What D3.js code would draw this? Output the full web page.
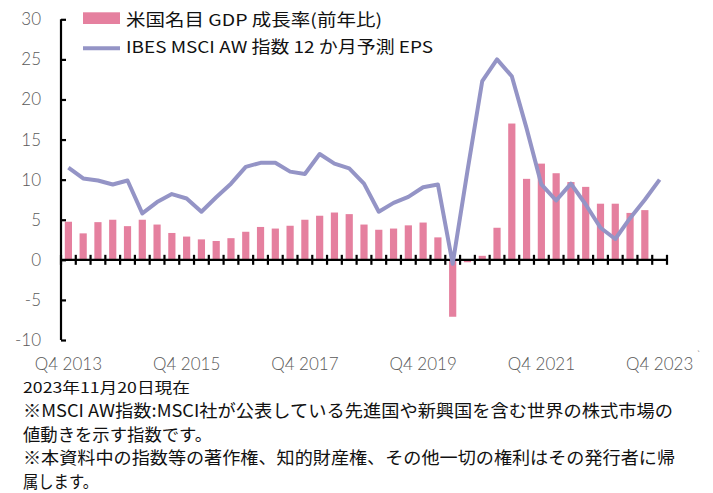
<!DOCTYPE html>
<html>
<head>
<meta charset="utf-8">
<script src="https://cdn.jsdelivr.net/npm/d3@7"></script>
<style>
  body { margin: 0; background: #fff; }
  svg { display: block; }
</style>
</head>
<body>
<script>
// quarters Q4 2013 .. Q4 2023
var quarters = [];
for (var y = 2013; y <= 2023; y++) {
  for (var q = 1; q <= 4; q++) {
    if ((y === 2013 && q < 4)) continue;
    quarters.push('Q' + q + ' ' + y);
  }
}

// 米国名目GDP成長率(前年比) - last quarter has no value yet
var gdp = [4.75, 3.3, 4.7, 5.0, 4.2, 5.0, 4.4, 3.35, 2.9, 2.55,
           2.35, 2.7, 3.5, 4.1, 3.9, 4.25, 5.0, 5.5, 5.9, 5.7,
           4.4, 3.75, 3.9, 4.3, 4.65, 2.8, -7.1, -0.3, 0.5, 4.0,
           17.0, 10.1, 12.0, 10.8, 9.7, 9.1, 7.0, 7.0, 5.85, 6.2, null];

// IBES MSCI AW 指数 12か月予測EPS
var eps = [11.5, 10.15, 9.9, 9.4, 9.9, 5.8, 7.2, 8.2, 7.65, 6.0,
           7.8, 9.5, 11.6, 12.1, 12.1, 11.0, 10.7, 13.2, 12.0, 11.4,
           9.5, 6.0, 7.1, 7.85, 9.05, 9.4, -0.5, 11.1, 22.3, 25.0,
           22.9, 16.4, 9.4, 7.4, 9.5, 6.9, 4.0, 2.6, 5.2, 7.5, 10.0];

var yTicks = [-10, -5, 0, 5, 10, 15, 20, 25, 30];
var xLabelQuarters = ['Q4 2013', 'Q4 2015', 'Q4 2017', 'Q4 2019', 'Q4 2021', 'Q4 2023'];

var legendLabels = ['米国名目 GDP 成長率(前年比)', 'IBES MSCI AW 指数 12 か月予測 EPS'];
var notes = [
  '2023年11月20日現在',
  '※MSCI AW指数:MSCI社が公表している先進国や新興国を含む世界の株式市場の',
  '値動きを示す指数です。',
  '※本資料中の指数等の著作権、知的財産権、その他一切の権利はその発行者に帰',
  '属します。'
];

var W = 713, H = 493;
var barColor = '#e5809f', lineColor = '#9494c6';
var numFont = 'Lato, "Noto Sans", sans-serif';
var jpFont = '"Noto Sans CJK JP", "Noto Sans", sans-serif';

var svg = d3.select('body').append('svg')
  .attr('width', W).attr('height', H);

var xb = d3.scaleBand().domain(quarters).range([61, 667]); // quarter bands
var yS = d3.scaleLinear().domain([-10, 30]).range([340, 19.3]);

// bars
svg.append('g').selectAll('rect')
  .data(gdp.map(function(v, i){ return {q: quarters[i], v: v}; }).filter(function(d){ return d.v !== null; }))
  .enter().append('rect')
  .attr('x', function(d){ return xb(d.q) + xb.bandwidth()/2 - 3.6; })
  .attr('width', 7.2)
  .attr('y', function(d){ return yS(Math.max(0, d.v)); })
  .attr('height', function(d){ return Math.abs(yS(d.v) - yS(0)); })
  .attr('fill', barColor);

// y axis
var yAxis = d3.axisRight(yS).tickValues(yTicks).tickSize(5).tickFormat('');
var gy = svg.append('g').attr('transform', 'translate(61,0)').call(yAxis);
gy.select('.domain').attr('stroke', '#000').attr('stroke-width', 2.2).attr('d', 'M0,' + yS(-10) + 'V' + yS(30));
gy.selectAll('.tick line').attr('stroke', '#000').attr('stroke-width', 2.2);

svg.append('g').selectAll('text').data(yTicks).enter().append('text')
  .attr('x', 41).attr('y', function(d){ return yS(d); })
  .attr('dy', '0.35em')
  .attr('text-anchor', 'end')
  .attr('font-family', numFont).attr('font-size', 17).attr('font-weight', 300).attr('fill', '#595959')
  .text(function(d){ return d; });

// x axis at zero with crossing ticks at band edges
var edges = quarters.map(function(q){ return xb(q); }).concat([xb.range()[1]]);
var gx = svg.append('g');
gx.append('line').attr('x1', 61).attr('x2', 667).attr('y1', yS(0)).attr('y2', yS(0))
  .attr('stroke', '#000').attr('stroke-width', 2.2);
gx.selectAll('line.tk').data(edges).enter().append('line').attr('class', 'tk')
  .attr('x1', function(d){ return d; }).attr('x2', function(d){ return d; })
  .attr('y1', yS(0) - 5).attr('y2', yS(0) + 5)
  .attr('stroke', '#000').attr('stroke-width', 2.2);

// line
var line = d3.line()
  .x(function(d, i){ return xb(quarters[i]) + xb.bandwidth()/2; })
  .y(function(d){ return yS(d); });
svg.append('path').datum(eps)
  .attr('d', line)
  .attr('fill', 'none').attr('stroke', lineColor).attr('stroke-width', 4)
  .attr('stroke-linejoin', 'round');

// x labels
svg.append('g').selectAll('text').data(xLabelQuarters).enter().append('text')
  .attr('x', function(d){ return xb(d) + xb.bandwidth()/2; })
  .attr('y', 369.5)
  .attr('text-anchor', 'middle')
  .attr('font-family', numFont).attr('font-size', 17).attr('font-weight', 300).attr('fill', '#595959')
  .text(function(d){ return d; });
svg.append('text').attr('x', 697).attr('y', 358).attr('font-family', numFont)
  .attr('font-size', 9).attr('fill', '#888').text('ˋ');

// legend
var lg = svg.append('g');
lg.append('rect').attr('x', 83).attr('y', 12.3).attr('width', 37).attr('height', 11.7).attr('fill', barColor);
lg.append('line').attr('x1', 83).attr('x2', 120).attr('y1', 48.3).attr('y2', 48.3)
  .attr('stroke', lineColor).attr('stroke-width', 4);
var legendWidths = [256, 307];
lg.selectAll('text').data(legendLabels).enter().append('text')
  .attr('x', 126).attr('y', function(d, i){ return i === 0 ? 26 : 53; })
  .attr('font-family', jpFont).attr('font-size', 16.5).attr('fill', '#111')
  .attr('textLength', function(d, i){ return legendWidths[i]; })
  .attr('lengthAdjust', 'spacingAndGlyphs')
  .text(function(d){ return d; });

// notes
var noteY = [392.5, 417, 440.5, 464, 487.5];
var noteW = [167, 650, 189, 652, 75];
var noteSize = [14.5, 17.5, 17.5, 17.5, 17.5];
svg.append('g').selectAll('text').data(notes).enter().append('text')
  .attr('x', 23).attr('y', function(d, i){ return noteY[i]; })
  .attr('font-family', jpFont).attr('font-size', function(d, i){ return noteSize[i]; })
  .attr('fill', '#111')
  .attr('textLength', function(d, i){ return noteW[i]; })
  .attr('lengthAdjust', 'spacingAndGlyphs')
  .text(function(d){ return d; });
</script>
</body>
</html>
